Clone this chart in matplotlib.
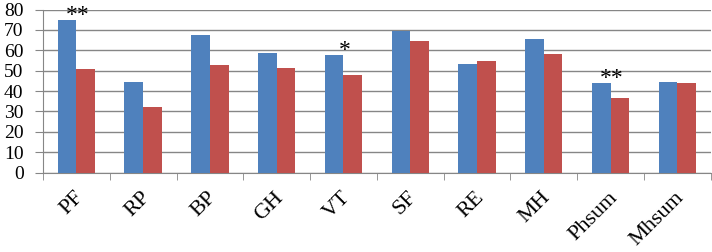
import numpy as np
import matplotlib
matplotlib.use("Agg")
import matplotlib.pyplot as plt
from matplotlib.transforms import ScaledTranslation

# Data
categories = ["PF", "RP", "BP", "GH", "VT", "SF", "RE", "MH", "Phsum", "Mhsum"]
group_a = [74.7, 44.4, 67.4, 58.8, 57.9, 69.3, 53.4, 65.4, 44.2, 44.7]
group_b = [51.0, 32.1, 53.0, 51.5, 47.7, 64.4, 54.9, 58.3, 36.7, 44.2]
marks = {"PF": "**", "VT": "*", "Phsum": "**"}
y_ticks = [0, 10, 20, 30, 40, 50, 60, 70, 80]

BLUE = "#4F81BD"
RED = "#C0504D"
GRID = "#868686"

plt.rcParams["font.family"] = ["Liberation Serif", "DejaVu Serif"]

fig = plt.figure(figsize=(7.12, 2.52), dpi=100)
ax = fig.add_axes([43 / 712, 1 - 172.7 / 252, (710.7 - 43) / 712, (172.7 - 9.5) / 252])

x = np.arange(len(categories))
w = 0.28
ax.bar(x - w / 2, group_a, width=w, color=BLUE, zorder=3)
ax.bar(x + w / 2, group_b, width=w, color=RED, zorder=3)

# significance stars
for i, c in enumerate(categories):
    if c in marks:
        ax.text(i + 0.02, group_a[i] - 3, marks[c], ha="center", va="bottom",
                fontsize=17, color="black", zorder=4, clip_on=False)

ax.set_xlim(-0.5, len(categories) - 0.5)
ax.set_ylim(0, 80)
ax.set_yticks(y_ticks)
ax.tick_params(axis="y", labelsize=14, length=6, color=GRID, pad=8)
ax.yaxis.grid(True, color=GRID, linewidth=1, zorder=0)

# category labels, ticks at group boundaries
ax.set_xticks(x)
ax.set_xticklabels(categories, rotation=45, ha="right", rotation_mode="anchor", fontsize=16)
ax.set_xticks(np.arange(-0.5, len(categories)), minor=True)
ax.tick_params(axis="x", which="major", length=0, pad=11)
ax.tick_params(axis="x", which="minor", length=5, color=GRID)
offset = ScaledTranslation(-2 / 72, 0, fig.dpi_scale_trans)
for lab in ax.get_xticklabels():
    lab.set_transform(lab.get_transform() + offset)

for s in ["top", "right"]:
    ax.spines[s].set_visible(False)
ax.spines["left"].set_color(GRID)
ax.spines["bottom"].set_color(GRID)

fig.savefig("out.png", dpi=100)
